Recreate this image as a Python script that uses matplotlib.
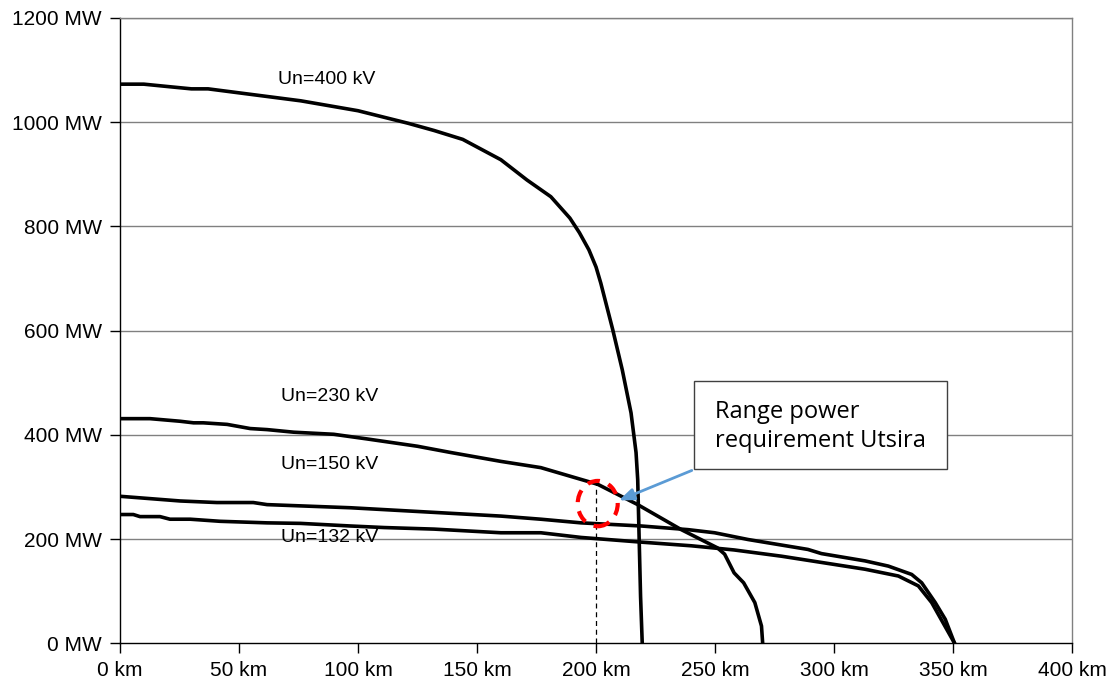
import numpy as np
import matplotlib.pyplot as plt
from matplotlib.patches import Ellipse, Rectangle

# curves: distance (km) vs transmittable power (MW)
km_400 = [0, 10, 21, 30, 37, 76, 100, 121, 132, 144, 160, 171, 181, 189, 193, 197, 200, 202, 207, 211, 214.7, 216.8, 217.5, 218.7, 219.4]
mw_400 = [1073, 1073, 1068, 1064, 1064, 1041, 1022, 998, 984, 967, 928, 889, 857, 816, 788, 755, 722, 691, 602, 525, 442, 366, 314, 90, 0]

km_230 = [0, 12.6, 25.3, 30.9, 35, 45, 54.7, 61.8, 73, 89.8, 103.9, 125, 139, 160, 176.8, 200.7, 217.5, 235.8, 251, 254, 258, 262, 266.7, 269.5, 270]
mw_230 = [431, 431, 426, 423, 423, 420, 412, 410, 405, 401, 392, 378, 366, 349, 337, 305, 266, 218, 183, 171, 135, 116, 78, 33, 0]

km_150 = [0, 25.3, 40.7, 56, 61.8, 96.8, 160, 176.8, 193.7, 219, 238.6, 249.8, 263.9, 289, 294.7, 313, 322.8, 332.6, 336.8, 342.5, 346.7, 350.6]
mw_150 = [282, 273, 270, 270, 266, 260, 244, 238, 231, 225, 218, 212, 199, 180, 172, 158, 148, 132, 116, 78, 46, 0]

km_132 = [0, 5.6, 8.4, 16.8, 21, 29.5, 42, 61.8, 75.8, 96.8, 111, 132, 160, 176.8, 193.7, 219, 240, 258, 277.9, 313, 327, 335.4, 341, 350.6]
mw_132 = [247, 247, 243, 243, 238, 238, 234, 231, 230, 225, 222, 219, 212, 212, 203, 194, 187, 179, 167, 142, 129, 110, 78, 0]

curve_labels = ["Un=400 kV", "Un=230 kV", "Un=150 kV", "Un=132 kV"]
label_pos = [(87, 1082), (88, 473), (88, 343), (88, 203)]

x_ticks = [0, 50, 100, 150, 200, 250, 300, 350, 400]
y_ticks = [0, 200, 400, 600, 800, 1000, 1200]

fig = plt.figure(figsize=(11.11, 6.92), dpi=100)
ax = fig.add_axes([0.108, 0.0705, 0.857, 0.9035])

for y in y_ticks[1:]:
    ax.axhline(y, color="#808080", lw=1, zorder=1)

for xs, ys in [(km_400, mw_400), (km_230, mw_230), (km_150, mw_150), (km_132, mw_132)]:
    ax.plot(xs, ys, color="black", lw=2.6, zorder=3, solid_joinstyle="round")

for txt, (x, y) in zip(curve_labels, label_pos):
    ax.text(x, y, txt, ha="center", va="center", fontsize=14,
            family="Liberation Sans", zorder=4)

# requirement marker at 200 km
ax.plot([200, 200], [0, 308], color="black", lw=0.9, ls=(0, (4, 3)), zorder=2)
ax.add_patch(Ellipse((200.7, 268), 16.8, 87, fill=False, ec="red",
                     lw=3, ls=(0, (3, 2.2)), zorder=4))

# callout box
ax.add_patch(Rectangle((241.3, 333.6), 106.1, 169.2, fc="white", ec="#404040",
                       lw=1, zorder=5))
ax.text(249.8, 416, "Range power\nrequirement Utsira", ha="left", va="center",
        fontsize=17, family="Open Sans", linespacing=1.32, zorder=6)
ax.annotate("", xy=(208.5, 272), xytext=(241.3, 333.6),
            arrowprops=dict(arrowstyle="-|>,head_length=0.9,head_width=0.35",
                            color="#5B9BD5", lw=2), zorder=6)

ax.set_xlim(0, 400)
ax.set_ylim(0, 1200)
ax.set_xticks(x_ticks)
ax.set_yticks(y_ticks)
ax.set_xticklabels([f"{v} km" for v in x_ticks], family="Liberation Sans", fontsize=15)
ax.set_yticklabels([f"{v} MW" for v in y_ticks], family="Liberation Sans", fontsize=15)
ax.tick_params(direction="out", length=7, width=1, pad=6)

ax.spines["left"].set_color("black")
ax.spines["bottom"].set_color("black")
ax.spines["top"].set_color("#808080")
ax.spines["right"].set_color("#808080")
for s in ax.spines.values():
    s.set_linewidth(1)

fig.savefig("out.png", dpi=100)
